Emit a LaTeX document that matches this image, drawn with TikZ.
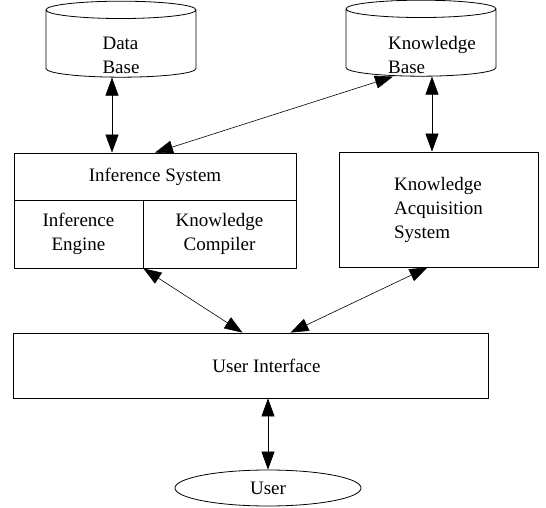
\documentclass[tikz,border=0pt]{standalone}
\usepackage{fontspec}
\setmainfont{Liberation Serif}
\usetikzlibrary{positioning,shapes,arrows.meta}

\begin{document}
\begin{tikzpicture}
            [x=1pt, y=-1pt, font=\fontsize{19}{24}\selectfont,
            box/.style={draw=black, line width=0.8pt, inner sep=0pt},
            store/.style={draw=black, line width=0.8pt, cylinder, shape border rotate=90,
                aspect=2.6, minimum width=150pt, minimum height=76pt},
            link/.style={line width=0.6pt,
                {Triangle[length=18pt,width=13pt]}-{Triangle[length=18pt,width=13pt]}}]
            \useasboundingbox (0,0) rectangle (546,508);
            % stores
            \node [store] (db) at (121,45) {};
            \node [align=left] (dbtext) at (121,55) {Data\\Base};
            \node [store] (kb) at (421,44) {};
            \node [align=left] (kbtext) at (432,55) {Knowledge\\Base};
            % inference system
            \node [box, minimum width=282pt, minimum height=47pt] (infsys) at (155,176.5) {Inference System};
            \node [box, minimum width=129pt, minimum height=68pt, align=center] (engine) at (78.5,234) {Inference\\Engine};
            \node [box, minimum width=153pt, minimum height=68pt, align=center] (compiler) at (219.5,234) {Knowledge\\Compiler};
            \node [box, minimum width=199pt, minimum height=115pt, align=left] (kas) at (438.5,209.5) {Knowledge\\Acquisition\\System};
            % interface and user
            \node [box, minimum width=475pt, minimum height=65pt] (ui) at (250.5,365.5) {\hspace*{32pt}User Interface};
            \node [draw=black, line width=0.8pt, ellipse, minimum width=186pt, minimum height=36pt, inner sep=0pt] (user) at (268,488) {User};
            % links
            \draw [link] ([xshift=-9pt]db.south) -- ([xshift=-9pt]db.south |- infsys.north);
            \draw [link] (infsys.north) -- ([xshift=-28pt]kb.south);
            \draw [link] ([xshift=11pt]kb.south) -- ([xshift=11pt]kb.south |- kas.north);
            \draw [link] (engine.south east) -- ([xshift=-8pt]ui.north);
            \draw [link] ([xshift=-11pt]kas.south) -- ([xshift=40pt]ui.north);
            \draw [link] (user.north |- ui.south) -- (user.north);
\end{tikzpicture}
\end{document}
